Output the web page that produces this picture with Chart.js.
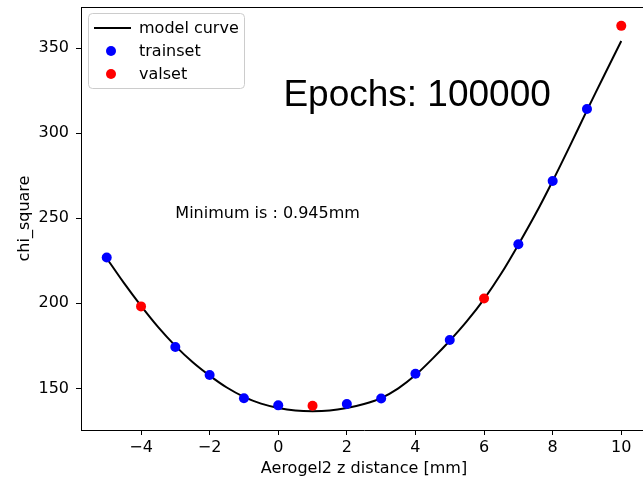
<!DOCTYPE html>
<html>
<head>
<meta charset="utf-8">
<script src="https://cdn.jsdelivr.net/npm/chart.js@4"></script>
<style>
  body { margin: 0; background: #fff; }
  #marco { width: 643px; height: 483px; overflow: hidden; position: relative; }
  #plot1 { display: block; }
</style>
</head>
<body>
<div id="marco">
  <canvas id="plot1" width="652" height="483" style="width:652px;height:483px"></canvas>
</div>
<script>
// Datos
let trainX = [-5, -3, -2, -1, 0, 2, 3, 4, 5, 7, 8, 9]
let trainY = [227, 174.3, 157.8, 144.2, 140, 140.8, 144, 158.6, 178.4, 234.8, 272, 314.3]

let valX = [-4, 1, 6, 10]
let valY = [198.2, 139.8, 202.8, 363.2]

let curveX = [-5, -4.5, -4, -3.5, -3, -2.5, -2, -1.5, -1, -0.5, 0, 0.5, 1, 1.5, 2, 2.5, 3, 3.5, 4, 4.5, 5, 5.5, 6, 6.5, 7, 7.5, 8, 8.5, 9, 9.5, 10]
let curveY = [226.5, 212, 198.5, 186, 175, 165.5, 157.5, 150.5, 145, 141, 138.5, 137, 136.6, 137, 138.5, 140.8, 144.3, 150, 157.8, 167.5, 178, 189.5, 202.5, 217.5, 234.5, 252.5, 272, 292.5, 313.5, 334, 354.3]

let xTicks = [-4, -2, 0, 2, 4, 6, 8, 10]
let yTicks = [150, 200, 250, 300, 350]

let etiquetaX = 'Aerogel2 z distance [mm]'
let etiquetaY = 'chi_square'
let textoEpocas = 'Epochs: 100000'
let textoMinimo = 'Minimum is : 0.945mm'

let fuente = 'DejaVu Sans'
let tam = 16

let juntar = (xs, ys) => xs.map((x, i) => ({x: x, y: ys[i]}))

// Plugin: borde superior, textos y leyenda dentro del area
let extras = {
  id: 'extras',
  afterDatasetsDraw: (chart) => {
    let ctx = chart.ctx
    let area = chart.chartArea
    let sx = chart.scales.x
    let sy = chart.scales.y

    ctx.save()
    ctx.strokeStyle = '#000'
    ctx.lineWidth = 1
    ctx.beginPath()
    ctx.moveTo(area.left, area.top + 0.5)
    ctx.lineTo(area.right, area.top + 0.5)
    ctx.stroke()

    ctx.fillStyle = '#000'
    ctx.textAlign = 'left'
    ctx.textBaseline = 'alphabetic'
    ctx.font = '37px "Liberation Sans"'
    ctx.fillText(textoEpocas, sx.getPixelForValue(0.15), sy.getPixelForValue(316))

    ctx.font = tam + 'px "' + fuente + '"'
    ctx.fillText(textoMinimo, sx.getPixelForValue(-3), sy.getPixelForValue(250))

    // leyenda
    let lx = area.left + 7
    let ly = area.top + 6
    let w = 156
    let h = 75
    ctx.beginPath()
    ctx.roundRect(lx + 0.5, ly + 0.5, w, h, 4)
    ctx.fillStyle = 'rgba(255,255,255,0.8)'
    ctx.fill()
    ctx.strokeStyle = '#cccccc'
    ctx.stroke()

    let sets = chart.data.datasets
    ctx.textBaseline = 'middle'
    ctx.font = tam + 'px "' + fuente + '"'
    sets.forEach((ds, i) => {
      let cy = ly + 15 + i * 23
      if (ds.showLine) {
        ctx.strokeStyle = ds.borderColor
        ctx.lineWidth = 2
        ctx.beginPath()
        ctx.moveTo(lx + 6, cy)
        ctx.lineTo(lx + 43, cy)
        ctx.stroke()
      } else {
        ctx.fillStyle = ds.backgroundColor
        ctx.beginPath()
        ctx.arc(lx + 23, cy, 5, 0, Math.PI * 2)
        ctx.fill()
      }
      ctx.fillStyle = '#000'
      ctx.fillText(ds.label, lx + 51, cy + 1)
    })
    ctx.restore()
  }
}

let menos = (v) => String(v).replace('-', '\u2212')

let plotRef = document.getElementById('plot1')

let config = {
  type: 'scatter',
  data: {
    datasets: [
      {
        label: 'model curve',
        data: juntar(curveX, curveY),
        showLine: true,
        borderColor: '#000000',
        backgroundColor: '#000000',
        borderWidth: 2,
        pointRadius: 0,
        tension: 0.3,
        order: 3
      },
      {
        label: 'trainset',
        data: juntar(trainX, trainY),
        backgroundColor: '#0000ff',
        borderColor: '#0000ff',
        borderWidth: 0,
        pointRadius: 5,
        order: 2
      },
      {
        label: 'valset',
        data: juntar(valX, valY),
        backgroundColor: '#ff0000',
        borderColor: '#ff0000',
        borderWidth: 0,
        pointRadius: 5,
        order: 1
      }
    ]
  },
  options: {
    responsive: false,
    animation: false,
    devicePixelRatio: 1,
    layout: { padding: { top: 7, right: 4, left: 0, bottom: 0 } },
    plugins: {
      legend: { display: false },
      tooltip: { enabled: false }
    },
    scales: {
      x: {
        type: 'linear',
        min: -5.75,
        max: 10.75,
        afterBuildTicks: (scale) => { scale.ticks = xTicks.map(v => ({value: v})) },
        afterFit: (scale) => {
          scale.height = 53
          scale.paddingLeft = 0
          scale.paddingRight = 0
        },
        border: { display: true, color: '#000', width: 1 },
        grid: { drawOnChartArea: false, drawTicks: true, tickLength: 5, color: '#000' },
        ticks: {
          color: '#000',
          padding: 3,
          maxRotation: 0,
          font: { family: fuente, size: tam },
          callback: (v) => menos(v)
        },
        title: {
          display: true,
          text: etiquetaX,
          color: '#000',
          font: { family: fuente, size: tam },
          padding: { top: 0, bottom: 5 }
        }
      },
      y: {
        type: 'linear',
        min: 125.5,
        max: 374.3,
        afterBuildTicks: (scale) => { scale.ticks = yTicks.map(v => ({value: v})) },
        afterFit: (scale) => {
          scale.width = 81
          scale.paddingTop = 0
          scale.paddingBottom = 0
        },
        border: { display: true, color: '#000', width: 1 },
        grid: { drawOnChartArea: false, drawTicks: true, tickLength: 5, color: '#000' },
        ticks: {
          color: '#000',
          padding: 7,
          font: { family: fuente, size: tam },
          callback: (v) => menos(v)
        },
        title: {
          display: true,
          text: etiquetaY,
          color: '#000',
          font: { family: fuente, size: tam },
          padding: { top: 15, bottom: 0 }
        }
      }
    }
  },
  plugins: [extras]
}

let chart1 = new Chart(plotRef, config)
</script>
</body>
</html>
